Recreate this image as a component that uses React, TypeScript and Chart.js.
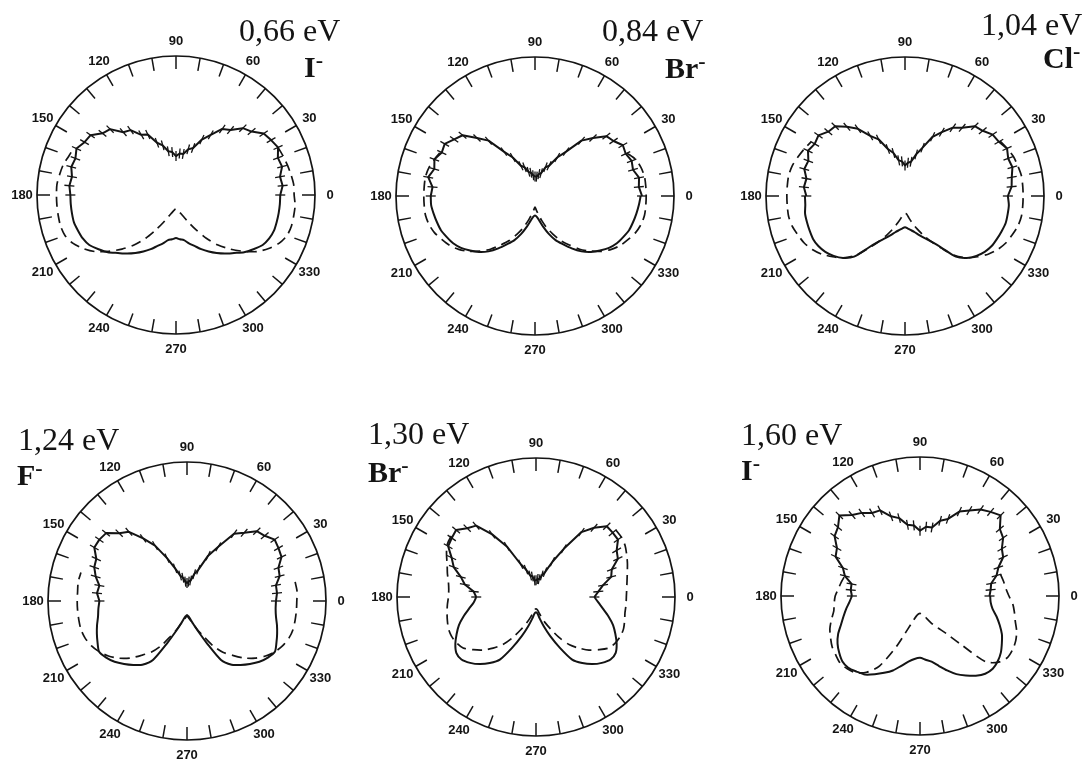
import React, { useEffect, useRef } from "react";
import { Chart, registerables } from "chart.js";

Chart.register(...registerables);

// ---------- angular grid ----------
const STEP_DEG = 5; // sampling of every series
const LABEL_ANGLES = [0, 30, 60, 90, 120, 150, 180, 210, 240, 270, 300, 330];
const MINOR_TICK_DEG = 10;

// ---------- panel texts ----------
const ENERGIES = ["0,66 eV", "0,84 eV", "1,04 eV", "1,24 eV", "1,30 eV", "1,60 eV"];
const IONS = ["I", "Br", "Cl", "F", "Br", "I"];

// ---------- experiment (upper half, from 0° to 180° every 5°) ----------
const EXP_066 = [0.75, 0.77, 0.76, 0.79, 0.78, 0.81, 0.79, 0.77, 0.71, 0.68, 0.61, 0.58, 0.50, 0.44, 0.36, 0.34, 0.30, 0.30, 0.28, 0.31, 0.32, 0.37, 0.40, 0.48, 0.50, 0.57, 0.59, 0.67, 0.69, 0.75, 0.76, 0.79, 0.77, 0.78, 0.76, 0.77, 0.76];
const EXP_084 = [0.77, 0.75, 0.76, 0.73, 0.74, 0.72, 0.73, 0.69, 0.67, 0.59, 0.52, 0.39, 0.32, 0.24, 0.22, 0.17, 0.16, 0.14, 0.14, 0.15, 0.17, 0.18, 0.22, 0.24, 0.32, 0.39, 0.52, 0.59, 0.68, 0.71, 0.75, 0.74, 0.77, 0.75, 0.78, 0.74, 0.75];
const EXP_104 = [0.74, 0.77, 0.78, 0.80, 0.79, 0.81, 0.78, 0.77, 0.73, 0.71, 0.64, 0.60, 0.53, 0.47, 0.37, 0.31, 0.25, 0.24, 0.22, 0.25, 0.26, 0.32, 0.36, 0.45, 0.50, 0.59, 0.65, 0.71, 0.72, 0.76, 0.75, 0.77, 0.74, 0.75, 0.72, 0.73, 0.71];
const EXP_124 = [0.64, 0.65, 0.65, 0.69, 0.70, 0.75, 0.76, 0.77, 0.73, 0.71, 0.64, 0.59, 0.45, 0.36, 0.24, 0.20, 0.15, 0.14, 0.13, 0.14, 0.17, 0.19, 0.25, 0.34, 0.46, 0.55, 0.65, 0.69, 0.76, 0.77, 0.77, 0.72, 0.71, 0.68, 0.64, 0.65, 0.63];
const EXP_130 = [0.42, 0.45, 0.49, 0.56, 0.58, 0.65, 0.67, 0.72, 0.72, 0.72, 0.65, 0.57, 0.40, 0.28, 0.19, 0.16, 0.13, 0.13, 0.12, 0.12, 0.15, 0.16, 0.21, 0.26, 0.42, 0.55, 0.67, 0.70, 0.75, 0.74, 0.73, 0.67, 0.63, 0.56, 0.52, 0.45, 0.43];
const EXP_160 = [0.50, 0.51, 0.52, 0.57, 0.60, 0.66, 0.68, 0.73, 0.75, 0.82, 0.79, 0.76, 0.71, 0.67, 0.59, 0.56, 0.50, 0.50, 0.47, 0.51, 0.52, 0.58, 0.61, 0.68, 0.69, 0.73, 0.76, 0.82, 0.77, 0.75, 0.69, 0.67, 0.59, 0.56, 0.50, 0.50, 0.49];

// ---------- solid theory (lower half, from 180° to 360° every 5°) ----------
const SOLID_066 = [0.76, 0.76, 0.76, 0.76, 0.75, 0.74, 0.72, 0.68, 0.64, 0.59, 0.55, 0.51, 0.47, 0.43, 0.39, 0.36, 0.33, 0.32, 0.31, 0.32, 0.33, 0.36, 0.39, 0.43, 0.47, 0.51, 0.55, 0.59, 0.64, 0.68, 0.72, 0.74, 0.75, 0.75, 0.75, 0.75, 0.75];
const SOLID_084 = [0.75, 0.75, 0.74, 0.73, 0.72, 0.70, 0.68, 0.65, 0.61, 0.57, 0.52, 0.46, 0.40, 0.35, 0.29, 0.23, 0.18, 0.15, 0.14, 0.15, 0.18, 0.23, 0.29, 0.35, 0.40, 0.46, 0.52, 0.57, 0.61, 0.65, 0.68, 0.70, 0.72, 0.73, 0.74, 0.75, 0.76];
const SOLID_104 = [0.72, 0.72, 0.73, 0.73, 0.73, 0.73, 0.72, 0.70, 0.67, 0.63, 0.57, 0.45, 0.38, 0.335, 0.30, 0.27, 0.25, 0.235, 0.225, 0.235, 0.25, 0.27, 0.30, 0.335, 0.38, 0.45, 0.57, 0.63, 0.67, 0.70, 0.72, 0.73, 0.74, 0.75, 0.75, 0.75, 0.74];
const SOLID_124 = [0.63, 0.64, 0.65, 0.67, 0.69, 0.71, 0.73, 0.71, 0.68, 0.64, 0.60, 0.56, 0.49, 0.33, 0.23, 0.17, 0.13, 0.11, 0.10, 0.11, 0.13, 0.17, 0.23, 0.33, 0.49, 0.56, 0.60, 0.64, 0.68, 0.71, 0.73, 0.71, 0.69, 0.67, 0.65, 0.64, 0.64];
const SOLID_130 = [0.43, 0.45, 0.49, 0.54, 0.59, 0.63, 0.67, 0.70, 0.70, 0.67, 0.63, 0.58, 0.52, 0.40, 0.30, 0.22, 0.16, 0.12, 0.11, 0.12, 0.16, 0.22, 0.30, 0.40, 0.52, 0.58, 0.63, 0.67, 0.70, 0.70, 0.67, 0.63, 0.59, 0.54, 0.49, 0.45, 0.42];
const SOLID_160 = [0.49, 0.51, 0.54, 0.57, 0.605, 0.65, 0.685, 0.71, 0.73, 0.73, 0.71, 0.69, 0.65, 0.61, 0.57, 0.52, 0.48, 0.455, 0.445, 0.46, 0.48, 0.52, 0.57, 0.62, 0.66, 0.70, 0.73, 0.74, 0.73, 0.71, 0.68, 0.65, 0.61, 0.57, 0.53, 0.51, 0.505];

// ---------- dashed theory (visible part, counter-clockwise from the start angle, every 5°) ----------
const DASH_START = [155, 155, 150, 165, 140, 165];
const DASH_066 = [0.81, 0.82, 0.84, 0.85, 0.86,
  0.86, 0.86, 0.86, 0.86, 0.85, 0.82, 0.77, 0.71, 0.63, 0.55, 0.47, 0.38, 0.29, 0.22, 0.17, 0.14, 0.12, 0.105, 0.10, 0.105, 0.12, 0.14, 0.17, 0.22, 0.29, 0.38, 0.47, 0.55, 0.63, 0.71, 0.77, 0.82, 0.85, 0.86, 0.86, 0.86,
  0.85, 0.85, 0.84, 0.83, 0.82, 0.81];
const DASH_084 = [0.75, 0.77, 0.79, 0.80, 0.80,
  0.80, 0.80, 0.80, 0.79, 0.77, 0.74, 0.71, 0.67, 0.62, 0.56, 0.50, 0.43, 0.37, 0.30, 0.24, 0.18, 0.13, 0.10, 0.08, 0.10, 0.13, 0.18, 0.24, 0.30, 0.37, 0.43, 0.50, 0.56, 0.62, 0.67, 0.71, 0.74, 0.77, 0.79, 0.80, 0.80,
  0.80, 0.80, 0.80, 0.79, 0.77, 0.73];
const DASH_104 = [0.78, 0.80, 0.82, 0.84, 0.85, 0.85,
  0.85, 0.85, 0.85, 0.84, 0.82, 0.80, 0.77, 0.73, 0.68, 0.63, 0.56, 0.46, 0.38, 0.31, 0.25, 0.20, 0.16, 0.13, 0.125, 0.13, 0.16, 0.20, 0.25, 0.31, 0.38, 0.46, 0.56, 0.63, 0.68, 0.73, 0.77, 0.80, 0.82, 0.84, 0.85, 0.85,
  0.85, 0.85, 0.85, 0.84, 0.83, 0.81, 0.79];
const DASH_124 = [0.79, 0.795, 0.79,
  0.79, 0.79, 0.79, 0.79, 0.78, 0.76, 0.73, 0.69, 0.64, 0.58, 0.51, 0.45, 0.37, 0.28, 0.22, 0.17, 0.14, 0.12, 0.11, 0.12, 0.14, 0.17, 0.22, 0.28, 0.37, 0.45, 0.51, 0.58, 0.64, 0.69, 0.73, 0.76, 0.78, 0.79, 0.79, 0.79,
  0.79, 0.795, 0.79];
const DASH_130 = [0.75, 0.75, 0.74, 0.71, 0.68, 0.66, 0.64, 0.63,
  0.63, 0.64, 0.65, 0.66, 0.67, 0.67, 0.66, 0.64, 0.59, 0.54, 0.48, 0.42, 0.34, 0.26, 0.20, 0.15, 0.11, 0.09, 0.085, 0.09, 0.11, 0.15, 0.20, 0.26, 0.34, 0.42, 0.48, 0.54, 0.59, 0.64, 0.66, 0.67, 0.67, 0.66, 0.65, 0.65,
  0.65, 0.655, 0.665, 0.68, 0.70, 0.72, 0.74, 0.75, 0.75];
const DASH_160 = [0.56, 0.575, 0.59,
  0.61, 0.62, 0.63, 0.66, 0.69, 0.71, 0.73, 0.74, 0.75, 0.74, 0.72, 0.67, 0.58, 0.40, 0.25, 0.18, 0.145, 0.13, 0.125, 0.13, 0.14, 0.16, 0.19, 0.23, 0.27, 0.33, 0.45, 0.67, 0.74, 0.77, 0.77, 0.76, 0.74, 0.71, 0.69, 0.67,
  0.64, 0.62, 0.61, 0.60];

const EXP = [EXP_066, EXP_084, EXP_104, EXP_124, EXP_130, EXP_160];
const SOLID = [SOLID_066, SOLID_084, SOLID_104, SOLID_124, SOLID_130, SOLID_160];
const DASH = [DASH_066, DASH_084, DASH_104, DASH_124, DASH_130, DASH_160];

// ---------- layout (style only) ----------
const RADIUS = 139;
const PAD = 41;
const SIZE = 2 * (RADIUS + PAD);
const CENTERS = [[176, 195], [535, 196], [905, 196], [187, 601], [536, 597], [920, 596]];
const ENERGY_POS = [[239, 14], [602, 14], [981, 8], [18, 423], [368, 417], [741, 418]];
const ION_POS = [[304, 52], [665, 53], [1043, 43], [17, 460], [368, 457], [741, 455]];
const INK = "#141414";

// radar index i sits at angle (360 - i*step) when the scale starts at 3 o'clock
const N_SLOTS = 360 / STEP_DEG;
const RADAR_ANGLES = Array.from({ length: N_SLOTS }, (_, i) => (360 - i * STEP_DEG) % 360);

function onRadar(startDeg: number, values: number[]) {
  return RADAR_ANGLES.map((a) => {
    const off = (((a - startDeg) % 360) + 360) % 360 / STEP_DEG;
    return off < values.length ? values[off] : null;
  });
}

const ringPlugin = {
  id: "ring",
  beforeDatasetsDraw(chart: any) {
    const sc = chart.scales.r;
    const ctx = chart.ctx;
    const R = sc.drawingArea;
    ctx.save();
    ctx.strokeStyle = INK;
    ctx.lineWidth = 1.5;
    for (let a = 0; a < 360; a += MINOR_TICK_DEG) {
      const idx = RADAR_ANGLES.indexOf(a);
      const o = sc.getPointPosition(idx, R);
      const n = sc.getPointPosition(idx, R - 13);
      ctx.beginPath();
      ctx.moveTo(o.x, o.y);
      ctx.lineTo(n.x, n.y);
      ctx.stroke();
    }
    ctx.fillStyle = INK;
    ctx.font = "bold 13px 'Liberation Sans', Arial, sans-serif";
    ctx.textAlign = "center";
    ctx.textBaseline = "middle";
    LABEL_ANGLES.forEach((a) => {
      const p = sc.getPointPosition(RADAR_ANGLES.indexOf(a), R + 15);
      ctx.fillText(String(a), p.x, p.y);
    });
    ctx.restore();
  },
};

function PolarPanel({ k }: { k: number }) {
  const ref = useRef<HTMLCanvasElement | null>(null);
  useEffect(() => {
    if (!ref.current) return;
    const chart = new Chart(ref.current, {
      type: "radar",
      data: {
        labels: RADAR_ANGLES.map(String),
        datasets: [
          {
            label: "experiment",
            data: onRadar(0, EXP[k]),
            borderColor: INK,
            borderWidth: 2,
            fill: false,
            tension: 0,
            borderJoinStyle: "round",
            pointStyle: "line",
            pointRadius: 5,
            pointHoverRadius: 5,
            pointBorderWidth: 1.3,
            pointBorderColor: INK,
            pointBackgroundColor: INK,
            pointRotation: (c: any) => -RADAR_ANGLES[c.dataIndex],
          } as any,
          {
            label: "theory",
            data: onRadar(180, SOLID[k]),
            borderColor: INK,
            borderWidth: 2,
            fill: false,
            tension: 0.25,
            pointRadius: 0,
            pointHoverRadius: 0,
          },
          {
            label: "theory (dashed)",
            data: onRadar(DASH_START[k], DASH[k]),
            borderColor: INK,
            borderWidth: 1.7,
            borderDash: [10, 6],
            fill: false,
            tension: 0.25,
            pointRadius: 0,
            pointHoverRadius: 0,
          },
        ],
      },
      options: {
        responsive: false,
        animation: false,
        devicePixelRatio: 1,
        events: [],
        layout: { padding: PAD },
        plugins: { legend: { display: false }, tooltip: { enabled: false } },
        scales: {
          r: {
            min: 0,
            max: 1,
            startAngle: 90,
            ticks: { display: false, stepSize: 1 },
            grid: { circular: true, color: INK, lineWidth: 1.7 },
            angleLines: { display: false },
            pointLabels: { display: false },
          },
        },
      },
      plugins: [ringPlugin],
    } as any);
    return () => chart.destroy();
  }, [k]);
  const [cx, cy] = CENTERS[k];
  return (
    <canvas
      ref={ref}
      width={SIZE}
      height={SIZE}
      style={{ position: "absolute", left: cx - SIZE / 2, top: cy - SIZE / 2, width: SIZE, height: SIZE }}
    />
  );
}

export default function App() {
  return (
    <div
      style={{
        position: "absolute",
        left: 0,
        top: 0,
        width: 1089,
        height: 759,
        overflow: "hidden",
        background: "#fff",
      }}
    >
      {ENERGIES.map((_, k) => (
        <PolarPanel key={"p" + k} k={k} />
      ))}
      {ENERGIES.map((e, k) => (
        <div
          key={"e" + k}
          style={{
            position: "absolute",
            left: ENERGY_POS[k][0],
            top: ENERGY_POS[k][1],
            font: "32px 'Liberation Serif', 'Times New Roman', serif",
            lineHeight: "32px",
            whiteSpace: "nowrap",
            color: INK,
          }}
        >
          {e}
        </div>
      ))}
      {IONS.map((ion, k) => (
        <div
          key={"i" + k}
          style={{
            position: "absolute",
            left: ION_POS[k][0],
            top: ION_POS[k][1],
            font: "bold 30px 'Liberation Serif', 'Times New Roman', serif",
            lineHeight: "30px",
            whiteSpace: "nowrap",
            color: INK,
          }}
        >
          {ion}
          <span style={{ fontSize: 22, position: "relative", top: -10 }}>-</span>
        </div>
      ))}
    </div>
  );
}
